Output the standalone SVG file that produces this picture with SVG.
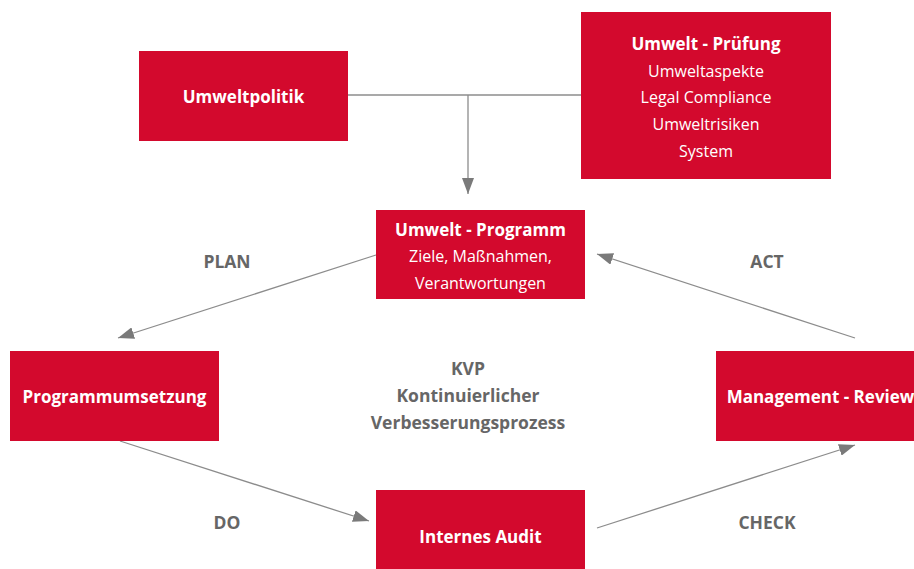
<svg xmlns="http://www.w3.org/2000/svg" width="914" height="569" viewBox="0 0 914 569">
<defs>
<marker id="ahl" viewBox="0 0 16 12" refX="16" refY="6" markerWidth="16" markerHeight="12" markerUnits="userSpaceOnUse" orient="auto">
<path d="M0,0 L16,6 L0,12 Z" fill="#7a7a7a"/>
</marker>
</defs>
<style>
.box{fill:#D3092D}
.t{font-family:"Open Sans","Noto Sans","Liberation Sans",sans-serif;fill:#fff;text-anchor:middle}
.b{font-weight:bold;font-size:17px}
.n{font-size:16px}
.lbl{font-family:"Open Sans","Noto Sans","Liberation Sans",sans-serif;font-weight:bold;font-size:17.5px;fill:#666;text-anchor:middle}
.c{stroke:#8c8c8c;stroke-width:1.3;fill:none}
</style>
<g id="connectors">
<path class="c" d="M348,95 H581"/>
<path class="c" d="M468,95 V194" marker-end="url(#ahl)"/>
<path class="c" d="M376,255 L118,338" marker-end="url(#ahl)"/>
<path class="c" d="M120,441 L369,521" marker-end="url(#ahl)"/>
<path class="c" d="M597,528 L855,445" marker-end="url(#ahl)"/>
<path class="c" d="M855,338 L597,254" marker-end="url(#ahl)"/>
</g>
<g id="umweltpolitik">
<rect class="box" x="139" y="51" width="209" height="90"/>
<text class="t b" x="243.5" y="103">Umweltpolitik</text>
</g>
<g id="umweltpruefung">
<rect class="box" x="581" y="12" width="250" height="167"/>
<text class="t b" x="706" y="50">Umwelt - Prüfung</text>
<text class="t n" x="706" y="77">Umweltaspekte</text>
<text class="t n" x="706" y="103">Legal Compliance</text>
<text class="t n" x="706" y="130">Umweltrisiken</text>
<text class="t n" x="706" y="157">System</text>
</g>
<g id="umweltprogramm">
<rect class="box" x="376" y="210" width="209" height="89"/>
<text class="t b" x="480.5" y="236">Umwelt - Programm</text>
<text class="t n" x="480.5" y="262">Ziele, Maßnahmen,</text>
<text class="t n" x="480.5" y="289">Verantwortungen</text>
</g>
<g id="programmumsetzung">
<rect class="box" x="10" y="351" width="209" height="90"/>
<text class="t b" x="114.5" y="403">Programmumsetzung</text>
</g>
<g id="managementreview">
<rect class="box" x="716" y="351" width="209" height="90"/>
<text class="t b" x="820.5" y="403">Management - Review</text>
</g>
<g id="internesaudit">
<rect class="box" x="376" y="490" width="209" height="90"/>
<text class="t b" x="480.5" y="543">Internes Audit</text>
</g>
<g id="labels">
<text class="lbl" x="227" y="268">PLAN</text>
<text class="lbl" x="767" y="268">ACT</text>
<text class="lbl" x="227" y="529">DO</text>
<text class="lbl" x="767" y="529">CHECK</text>
<text class="lbl" x="468" y="375">KVP</text>
<text class="lbl" x="468" y="402">Kontinuierlicher</text>
<text class="lbl" x="468" y="429">Verbesserungsprozess</text>
</g>
</svg>
